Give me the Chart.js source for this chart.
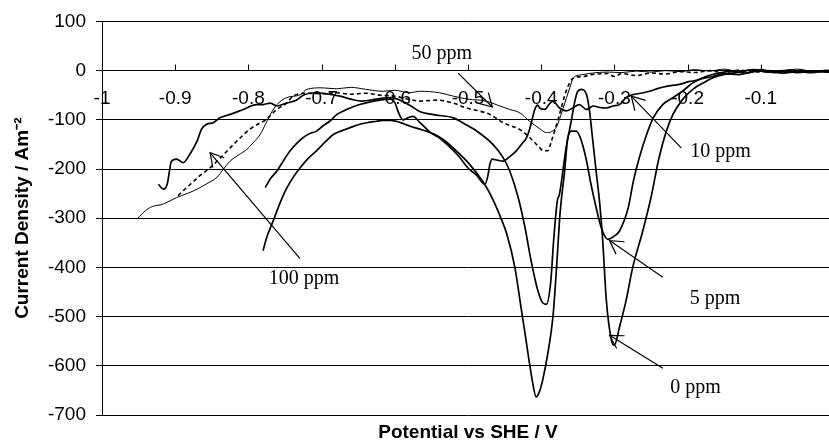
<!DOCTYPE html>
<html><head><meta charset="utf-8">
<script src="https://cdn.jsdelivr.net/npm/chart.js@4.4.1/dist/chart.umd.min.js"></script>
<style>html,body{margin:0;padding:0;overflow:hidden;background:#fff}</style>
</head><body>
<canvas id="c" width="834" height="444"></canvas>
<script>
// ---- tick labels ----
const xTickLabels = ['-1','-0.9','-0.8','-0.7','-0.6','-0.5','-0.4','-0.3','-0.2','-0.1','0'];
const yTickValues = [100,0,-100,-200,-300,-400,-500,-600,-700];

// ---- series: 0 ppm ----
const ppm0X = [-0.923,-0.916,-0.911,-0.905,-0.898,-0.889,-0.880,-0.870,-0.864,-0.857,-0.848,-0.839,-0.825,-0.807,-0.789,-0.780,-0.770,-0.761,-0.748,-0.734,-0.725,-0.707,-0.690,-0.675,-0.660,-0.645,-0.625,-0.605,-0.590,-0.578,-0.566,-0.545,-0.520,-0.505,-0.488,-0.466,-0.452,-0.443,-0.432,-0.422,-0.414,-0.405,-0.398,-0.393,-0.387,-0.383,-0.378,-0.375,-0.366,-0.359,-0.354,-0.350,-0.345,-0.338,-0.334,-0.330,-0.325,-0.320,-0.316,-0.311,-0.304,-0.300,-0.293,-0.284,-0.275,-0.262,-0.250,-0.239,-0.229,-0.220,-0.207,-0.193,-0.175,-0.166,-0.150,-0.130,-0.110,-0.090,-0.070,-0.050,-0.030,-0.010,0];
const ppm0Y = [-231,-241,-231,-184,-180,-187,-170,-143,-119,-109,-106,-96,-89,-79,-69,-69,-66,-72,-66,-60,-50,-45,-48,-52,-58,-62,-58,-55,-62,-72,-83,-90,-96,-108,-123,-150,-177,-204,-255,-320,-385,-445,-472,-475,-430,-345,-265,-251,-157,-103,-62,-42,-38,-49,-82,-136,-204,-271,-345,-467,-548,-558,-521,-467,-400,-330,-258,-177,-123,-89,-59,-38,-22,-15,-8,-3,2,-3,0,-4,-1,-3,-2];

// ---- series: 5 ppm ----
const ppm5X = [-0.780,-0.775,-0.766,-0.757,-0.748,-0.738,-0.729,-0.718,-0.707,-0.695,-0.684,-0.672,-0.661,-0.650,-0.638,-0.625,-0.616,-0.605,-0.598,-0.588,-0.579,-0.568,-0.557,-0.545,-0.534,-0.516,-0.498,-0.480,-0.470,-0.463,-0.455,-0.447,-0.436,-0.427,-0.421,-0.416,-0.411,-0.407,-0.403,-0.398,-0.391,-0.384,-0.379,-0.375,-0.373,-0.368,-0.364,-0.359,-0.352,-0.345,-0.338,-0.332,-0.325,-0.318,-0.313,-0.309,-0.304,-0.298,-0.293,-0.281,-0.274,-0.266,-0.256,-0.247,-0.234,-0.220,-0.207,-0.193,-0.184,-0.166,-0.150,-0.130,-0.110,-0.090,-0.070,-0.050,-0.030,-0.010,0];
const ppm5Y = [-366,-339,-305,-270,-240,-215,-197,-178,-163,-145,-130,-122,-116,-110,-106,-103,-101,-101,-103,-108,-113,-118,-123,-130,-140,-163,-190,-225,-250,-272,-300,-332,-400,-487,-545,-595,-640,-663,-655,-629,-575,-501,-400,-305,-270,-204,-140,-123,-123,-143,-184,-231,-278,-319,-337,-343,-340,-334,-326,-278,-224,-177,-130,-96,-69,-55,-42,-25,-18,-12,-6,-8,-2,0,-5,-2,-4,0,-1];

// ---- series: 10 ppm ----
const ppm10X = [-0.777,-0.770,-0.761,-0.752,-0.743,-0.734,-0.725,-0.716,-0.707,-0.698,-0.689,-0.679,-0.670,-0.661,-0.648,-0.635,-0.620,-0.606,-0.600,-0.595,-0.589,-0.582,-0.575,-0.566,-0.552,-0.538,-0.525,-0.512,-0.500,-0.488,-0.477,-0.473,-0.470,-0.467,-0.460,-0.452,-0.443,-0.434,-0.427,-0.420,-0.416,-0.413,-0.409,-0.405,-0.402,-0.395,-0.389,-0.384,-0.375,-0.366,-0.357,-0.348,-0.338,-0.329,-0.320,-0.311,-0.302,-0.293,-0.284,-0.275,-0.264,-0.252,-0.240,-0.229,-0.211,-0.197,-0.188,-0.175,-0.166,-0.150,-0.139,-0.120,-0.100,-0.080,-0.060,-0.040,-0.020,0];
const ppm10Y = [-238,-220,-204,-183,-163,-148,-136,-128,-123,-112,-103,-89,-82,-76,-69,-64,-60,-58,-65,-85,-100,-96,-93,-105,-125,-138,-155,-175,-198,-213,-231,-215,-190,-180,-182,-184,-175,-163,-150,-136,-120,-103,-80,-70,-76,-79,-68,-62,-76,-82,-76,-69,-79,-72,-75,-76,-72,-69,-55,-49,-46,-42,-36,-32,-28,-22,-20,-12,-8,-3,-1,-5,2,-4,1,-3,-1,-3];

// ---- series: 50 ppm ----
const ppm50X = [-0.952,-0.946,-0.934,-0.916,-0.898,-0.884,-0.870,-0.857,-0.843,-0.834,-0.825,-0.814,-0.802,-0.793,-0.784,-0.777,-0.770,-0.761,-0.748,-0.729,-0.720,-0.700,-0.680,-0.660,-0.640,-0.616,-0.600,-0.580,-0.566,-0.539,-0.520,-0.500,-0.475,-0.460,-0.443,-0.429,-0.416,-0.402,-0.393,-0.386,-0.379,-0.370,-0.361,-0.356,-0.343,-0.330,-0.310,-0.290,-0.270,-0.250,-0.230,-0.210,-0.190,-0.170,-0.150,-0.130,-0.110,-0.090,-0.070,-0.050,-0.030,-0.010,0];
const ppm50Y = [-302,-292,-278,-271,-258,-250,-241,-230,-217,-200,-184,-172,-160,-146,-130,-110,-89,-69,-55,-49,-38,-35,-37,-34,-38,-42,-40,-45,-42,-45,-52,-58,-62,-70,-79,-86,-103,-118,-126,-124,-114,-76,-35,-15,-8,-5,-3,-4,-1,-3,0,-2,2,-1,3,-2,1,-3,0,3,-1,1,-1];

// ---- series: 100 ppm ----
const ppm100X = [-0.896,-0.886,-0.877,-0.865,-0.852,-0.838,-0.825,-0.812,-0.798,-0.786,-0.775,-0.768,-0.761,-0.748,-0.739,-0.720,-0.700,-0.680,-0.660,-0.640,-0.620,-0.600,-0.579,-0.566,-0.543,-0.520,-0.502,-0.485,-0.470,-0.452,-0.440,-0.429,-0.420,-0.411,-0.403,-0.397,-0.391,-0.386,-0.380,-0.375,-0.366,-0.356,-0.343,-0.330,-0.310,-0.300,-0.290,-0.270,-0.250,-0.230,-0.210,-0.190,-0.170,-0.150,-0.130,-0.110,-0.090,-0.070,-0.050,-0.030,-0.010,0];
const ppm100Y = [-254,-240,-228,-212,-197,-177,-157,-138,-119,-108,-99,-88,-79,-66,-52,-46,-47,-45,-48,-46,-50,-52,-59,-62,-60,-66,-76,-82,-89,-106,-113,-120,-130,-143,-155,-163,-163,-143,-115,-89,-42,-15,-12,-8,-6,-12,-6,-10,-5,-7,-2,-4,0,-5,1,-3,-1,-4,0,-3,-1,-2];

// ---- annotation labels ----
const noteTexts = ['0 ppm','5 ppm','10 ppm','50 ppm','100 ppm'];

const toPoints = (xs, ys) => xs.map((x, i) => ({x: x, y: ys[i]}));

// annotation placement in data units (text centre, arrow tail, arrow tip)
const notes = [
  {text: noteTexts[0], tx: -0.1892, ty: -645, fx: -0.2338, fy: -605, px: -0.3066, py: -538},
  {text: noteTexts[1], tx: -0.1626, ty: -463, fx: -0.2338, fy: -420, px: -0.3066, py: -345.5},
  {text: noteTexts[2], tx: -0.1551, ty: -165, fx: -0.2087, fy: -157, px: -0.2770, py: -52},
  {text: noteTexts[3], tx: -0.5357, ty: 35,   fx: -0.5135, fy: -5,   px: -0.4668, py: -74},
  {text: noteTexts[4], tx: -0.7240, ty: -424, fx: -0.7295, fy: -382, px: -0.8523, py: -167}
];

const solid = (label, xs, ys, w) => ({
  label: label, data: toPoints(xs, ys), showLine: true, borderColor: '#000',
  backgroundColor: '#000', borderWidth: w, pointRadius: 0, fill: false,
  cubicInterpolationMode: 'monotone', xAxisID: 'x', yAxisID: 'y'
});

const ds0 = solid('0 ppm', ppm0X, ppm0Y, 1.7);
const ds5 = solid('5 ppm', ppm5X, ppm5Y, 1.7);
const ds10 = solid('10 ppm', ppm10X, ppm10Y, 1.7);
const ds50 = solid('50 ppm', ppm50X, ppm50Y, 1);
const ds100 = solid('100 ppm', ppm100X, ppm100Y, 1.6);
ds100.borderDash = [4, 3];

const annotPlugin = {
  id: 'annot',
  afterDraw(chart) {
    const ctx = chart.ctx;
    const xs = chart.scales.x, ys = chart.scales.y, x2 = chart.scales.x2;
    ctx.save();
    // upward tick marks on the x axis line at y = 0
    const y0 = ys.getPixelForValue(0);
    ctx.strokeStyle = '#000';
    ctx.lineWidth = 1;
    x2.ticks.forEach(t => {
      const px = Math.round(x2.getPixelForValue(t.value)) + 0.5;
      ctx.beginPath(); ctx.moveTo(px, y0); ctx.lineTo(px, y0 - 6); ctx.stroke();
    });
    // annotations
    ctx.font = '20px "Liberation Serif", "Times New Roman", serif';
    ctx.fillStyle = '#000';
    ctx.textAlign = 'center';
    ctx.textBaseline = 'middle';
    notes.forEach(n => {
      ctx.fillText(n.text, xs.getPixelForValue(n.tx), ys.getPixelForValue(n.ty));
      const ax = xs.getPixelForValue(n.fx), ay = ys.getPixelForValue(n.fy);
      const bx = xs.getPixelForValue(n.px), by = ys.getPixelForValue(n.py);
      ctx.lineWidth = 1.2;
      ctx.beginPath(); ctx.moveTo(ax, ay); ctx.lineTo(bx, by); ctx.stroke();
      const ang = Math.atan2(ay - by, ax - bx);
      const L = 15, sp = Math.PI / 6;
      ctx.beginPath();
      ctx.moveTo(bx + L * Math.cos(ang - sp), by + L * Math.sin(ang - sp));
      ctx.lineTo(bx, by);
      ctx.lineTo(bx + L * Math.cos(ang + sp), by + L * Math.sin(ang + sp));
      ctx.stroke();
    });
    ctx.restore();
  }
};

new Chart(document.getElementById('c'), {
  type: 'scatter',
  data: { datasets: [ds0, ds5, ds10, ds50, ds100] },
  options: {
    responsive: false,
    animation: false,
    events: [],
    layout: { padding: { top: 20, right: 0, bottom: 0, left: 0 } },
    plugins: { legend: { display: false }, tooltip: { enabled: false } },
    scales: {
      x: {
        type: 'linear', position: 'bottom', min: -1, max: 0,
        ticks: { display: false },
        grid: { display: false, drawTicks: false },
        border: { display: false },
        title: { display: true, text: 'Potential vs SHE / V', color: '#000',
                 font: { family: '"Liberation Sans", Arial, sans-serif', size: 19, weight: 'bold' },
                 padding: { top: 0, bottom: 0 } },
        afterFit: s => { s.height = 29; }
      },
      x2: {
        type: 'linear', position: { y: 0 }, min: -1, max: 0,
        ticks: { stepSize: 0.1, color: '#000', padding: 17, maxRotation: 0, autoSkip: false,
                 font: { family: '"Liberation Sans", Arial, sans-serif', size: 19 },
                 callback: (v, i) => xTickLabels[i] },
        grid: { display: false, drawTicks: false },
        border: { display: true, color: '#000', width: 1 },
        afterFit: s => { s.paddingLeft = 0; s.paddingRight = 0; }
      },
      y: {
        type: 'linear', position: 'left', min: -700, max: 100,
        afterBuildTicks: s => { s.ticks = yTickValues.map(v => ({ value: v })); },
        ticks: { color: '#000', padding: 10,
                 font: { family: '"Liberation Sans", Arial, sans-serif', size: 19 } },
        grid: { color: '#000', lineWidth: 1, tickLength: 6, drawTicks: true },
        border: { display: true, color: '#000', width: 1 },
        title: { display: true, text: 'Current Density / Am\u207B\u00B2', color: '#000',
                 font: { family: '"Liberation Sans", Arial, sans-serif', size: 19, weight: 'bold' },
                 padding: { top: 11, bottom: 0 } },
        afterFit: s => { s.width = 102; }
      }
    }
  },
  plugins: [annotPlugin]
});
</script>
</body></html>
